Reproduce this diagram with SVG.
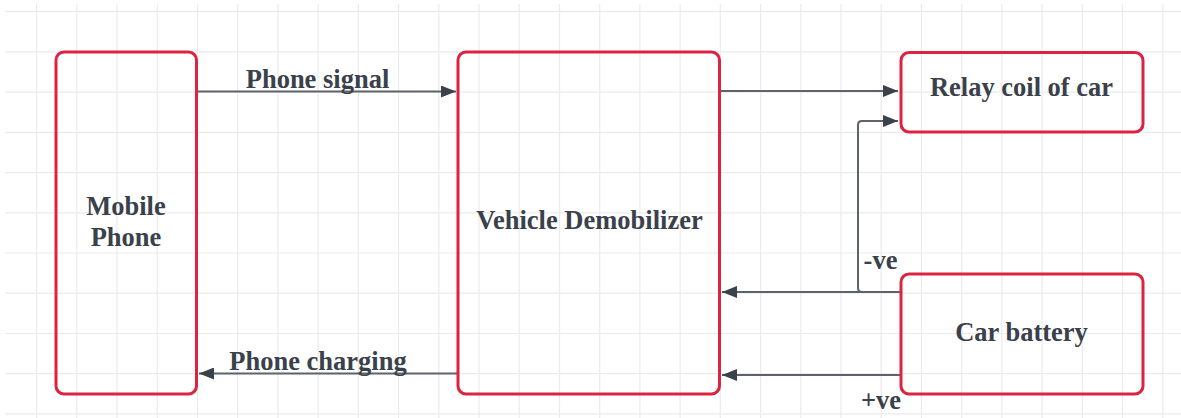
<svg xmlns="http://www.w3.org/2000/svg" width="1181" height="418" viewBox="0 0 1181 418">
<defs>
<style>
.grid line{stroke:#ebebeb;stroke-width:1.2}
.node rect{fill:none;stroke:#dc2340;stroke-width:3}
.lbl{font-family:"Liberation Serif","Times New Roman",serif;font-weight:bold;font-size:26.5px;fill:#3a414a}
.conn{fill:none;stroke:#5c636b;stroke-width:2}
</style>
<marker id="ah" viewBox="0 0 15 12" refX="15" refY="6" markerWidth="15" markerHeight="12" markerUnits="userSpaceOnUse" orient="auto">
<path d="M0,0 L15,6 L0,12 Z" fill="#3a414a"/>
</marker>
</defs>
<rect width="1181" height="418" fill="#ffffff"/>
<g class="grid">
<line x1="36.6" y1="4" x2="36.6" y2="418"/><line x1="76.8" y1="4" x2="76.8" y2="418"/><line x1="117" y1="4" x2="117" y2="418"/><line x1="157.3" y1="4" x2="157.3" y2="418"/><line x1="197.5" y1="4" x2="197.5" y2="418"/><line x1="237.7" y1="4" x2="237.7" y2="418"/><line x1="277.9" y1="4" x2="277.9" y2="418"/><line x1="318.1" y1="4" x2="318.1" y2="418"/><line x1="358.4" y1="4" x2="358.4" y2="418"/><line x1="398.6" y1="4" x2="398.6" y2="418"/><line x1="438.8" y1="4" x2="438.8" y2="418"/><line x1="479" y1="4" x2="479" y2="418"/><line x1="519.2" y1="4" x2="519.2" y2="418"/><line x1="559.5" y1="4" x2="559.5" y2="418"/><line x1="599.7" y1="4" x2="599.7" y2="418"/><line x1="639.9" y1="4" x2="639.9" y2="418"/><line x1="680.1" y1="4" x2="680.1" y2="418"/><line x1="720.3" y1="4" x2="720.3" y2="418"/><line x1="760.6" y1="4" x2="760.6" y2="418"/><line x1="800.8" y1="4" x2="800.8" y2="418"/><line x1="841" y1="4" x2="841" y2="418"/><line x1="881.2" y1="4" x2="881.2" y2="418"/><line x1="921.4" y1="4" x2="921.4" y2="418"/><line x1="961.7" y1="4" x2="961.7" y2="418"/><line x1="1001.9" y1="4" x2="1001.9" y2="418"/><line x1="1042.1" y1="4" x2="1042.1" y2="418"/><line x1="1082.3" y1="4" x2="1082.3" y2="418"/><line x1="1122.5" y1="4" x2="1122.5" y2="418"/><line x1="1162.8" y1="4" x2="1162.8" y2="418"/>
<line x1="5" y1="11.7" x2="1181" y2="11.7"/><line x1="5" y1="51.9" x2="1181" y2="51.9"/><line x1="5" y1="92.1" x2="1181" y2="92.1"/><line x1="5" y1="132.4" x2="1181" y2="132.4"/><line x1="5" y1="172.6" x2="1181" y2="172.6"/><line x1="5" y1="212.8" x2="1181" y2="212.8"/><line x1="5" y1="253" x2="1181" y2="253"/><line x1="5" y1="293.2" x2="1181" y2="293.2"/><line x1="5" y1="333.5" x2="1181" y2="333.5"/><line x1="5" y1="373.7" x2="1181" y2="373.7"/><line x1="5" y1="413.9" x2="1181" y2="413.9"/>
</g>
<g id="connectors">
<path class="conn" d="M197,91.5 H456" marker-end="url(#ah)"/>
<path class="conn" d="M720,91 H898" marker-end="url(#ah)"/>
<path class="conn" d="M901,292 H862 Q858,292 858,288 V125 Q858,121 862,121 H898" marker-end="url(#ah)"/>
<path class="conn" d="M901,292 H722" marker-end="url(#ah)"/>
<path class="conn" d="M901,375 H722" marker-end="url(#ah)"/>
<path class="conn" d="M458,373.5 H199" marker-end="url(#ah)"/>
<text class="lbl" x="317.5" y="88" text-anchor="middle">Phone signal</text>
<text class="lbl" x="318" y="370" text-anchor="middle">Phone charging</text>
<text class="lbl" x="880.5" y="269" text-anchor="middle">-ve</text>
<text class="lbl" x="881" y="409" text-anchor="middle">+ve</text>
</g>
<g id="mobile-phone" class="node">
<rect x="56" y="52" width="140.5" height="342" rx="8"/>
<text class="lbl" x="126" y="215" text-anchor="middle">Mobile</text>
<text class="lbl" x="126" y="246" text-anchor="middle">Phone</text>
</g>
<g id="vehicle-demobilizer" class="node">
<rect x="458" y="52" width="261.5" height="342" rx="8"/>
<text class="lbl" x="589.5" y="229" text-anchor="middle">Vehicle Demobilizer</text>
</g>
<g id="relay-coil" class="node">
<rect x="901" y="52.5" width="242" height="79.5" rx="8"/>
<text class="lbl" x="1021.5" y="96" text-anchor="middle">Relay coil of car</text>
</g>
<g id="car-battery" class="node">
<rect x="901" y="274" width="242" height="120" rx="8"/>
<text class="lbl" x="1021.5" y="341" text-anchor="middle">Car battery</text>
</g>
</svg>
